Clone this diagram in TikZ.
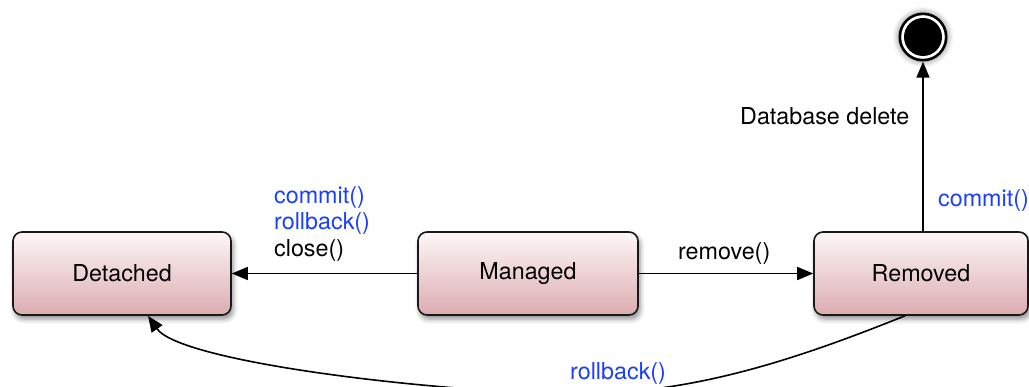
\documentclass[tikz,border=0pt]{standalone}
\usepackage{fontspec}
\setmainfont{TeX Gyre Heros}
\usetikzlibrary{arrows.meta,shadows.blur}
\definecolor{boxtop}{RGB}{253,247,247}
\definecolor{boxbot}{RGB}{220,172,176}
\definecolor{boxline}{RGB}{24,24,24}
\definecolor{callblue}{RGB}{28,62,255}
\tikzset{
  statebox/.style={rectangle, rounded corners=9pt, draw=boxline, line width=1.6pt,
    top color=boxtop, bottom color=boxbot, minimum height=83pt, inner sep=0pt,
    font=\fontsize{23.3}{26}\selectfont,
    blur shadow={shadow xshift=2pt, shadow yshift=-4pt, shadow blur radius=5pt, shadow opacity=45}},
  arr/.style={line width=1.6pt, -{Triangle[length=16pt,width=13pt]}},
  lbl/.style={font=\fontsize{23.3}{26}\selectfont, inner sep=0pt, anchor=base west},
  blue lbl/.style={lbl, text=callblue}
}
\begin{document}
\begin{tikzpicture}[x=1pt,y=-1pt]
\useasboundingbox (0,0) rectangle (1029,387);
\node[statebox, minimum width=218pt] (det) at (122,273.5) {Detached};
\node[statebox, minimum width=220pt] (man) at (528,273.5) {Managed};
\node[statebox, minimum width=214pt] (rem) at (921,273.5) {Removed};
\node[circle, fill=black, minimum size=49pt, inner sep=0pt,
  blur shadow={shadow xshift=0pt, shadow yshift=0pt, shadow blur radius=6pt, shadow opacity=50}] (end) at (923,37) {};
\fill[white] (end.center) circle (21.8);
\fill[black] (end.center) circle (19);
% connectors
\draw[arr] (man.west) -- (det.east);
\draw[arr] (man.east) -- (rem.west);
\draw[arr] (rem.north -| end.south) -- (end.south);
\coordinate (low) at (575,394);
\draw[arr] ([xshift=-16pt]rem.south) .. controls (790,362) and (690,394) .. (low)
  .. controls (430,392) and (180,362) .. ([xshift=26pt]det.south);
% labels
\node[blue lbl] (l1) at (274,204) {commit()};
\node[blue lbl] (l2) at (274,230) {rollback()};
\node[lbl] (l3) at (274,257) {close()};
\node[lbl] (l4) at (678,260) {remove()};
\node[lbl] (l5) at (740,125) {Database delete};
\node[blue lbl] (l6) at (938,207) {commit()};
\node[blue lbl] (l7) at (570,380) {rollback()};
\end{tikzpicture}
\end{document}
